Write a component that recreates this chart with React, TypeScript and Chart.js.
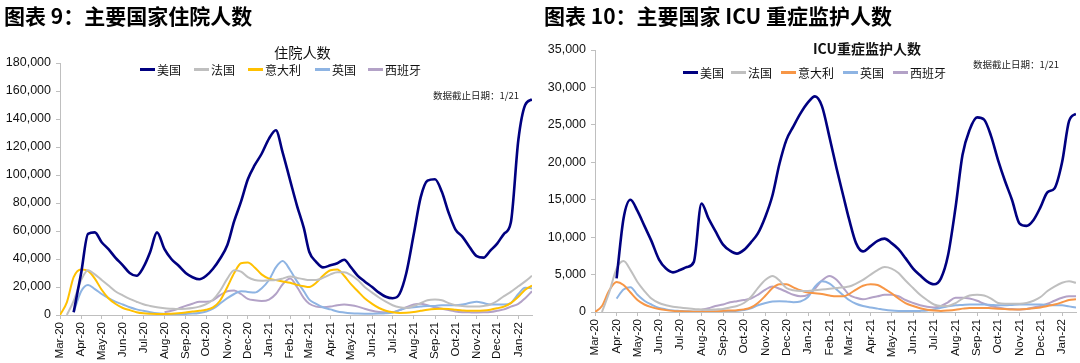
import React, { useEffect, useRef } from "react";
import { Chart, registerables } from "chart.js";

Chart.register(...registerables);

// ---------- categories (sample dates, every ~10 days) ----------
const DATES = [
  "2020-03-01", "2020-03-11", "2020-03-21", "2020-04-01", "2020-04-11", "2020-04-21", "2020-05-01", "2020-05-11", "2020-05-21",
  "2020-06-01", "2020-06-11", "2020-06-21", "2020-07-01", "2020-07-11", "2020-07-21", "2020-08-01", "2020-08-11", "2020-08-21",
  "2020-09-01", "2020-09-11", "2020-09-21", "2020-10-01", "2020-10-11", "2020-10-21", "2020-11-01", "2020-11-11", "2020-11-21",
  "2020-12-01", "2020-12-11", "2020-12-21", "2021-01-01", "2021-01-11", "2021-01-21", "2021-02-01", "2021-02-11", "2021-02-21",
  "2021-03-01", "2021-03-11", "2021-03-21", "2021-04-01", "2021-04-11", "2021-04-21", "2021-05-01", "2021-05-11", "2021-05-21",
  "2021-06-01", "2021-06-11", "2021-06-21", "2021-07-01", "2021-07-11", "2021-07-21", "2021-08-01", "2021-08-11", "2021-08-21",
  "2021-09-01", "2021-09-11", "2021-09-21", "2021-10-01", "2021-10-11", "2021-10-21", "2021-11-01", "2021-11-11", "2021-11-21",
  "2021-12-01", "2021-12-11", "2021-12-21", "2022-01-01", "2022-01-11", "2022-01-21",
];

// ---------- tick labels ----------
const MONTH_TICKS = [
  "2020-03-01", "2020-04-01", "2020-05-01", "2020-06-01", "2020-07-01", "2020-08-01", "2020-09-01", "2020-10-01",
  "2020-11-01", "2020-12-01", "2021-01-01", "2021-02-01", "2021-03-01", "2021-04-01", "2021-05-01", "2021-06-01",
  "2021-07-01", "2021-08-01", "2021-09-01", "2021-10-01", "2021-11-01", "2021-12-01", "2022-01-01",
];
const MONTH_LABELS = [
  "Mar-20", "Apr-20", "May-20", "Jun-20", "Jul-20", "Aug-20", "Sep-20", "Oct-20",
  "Nov-20", "Dec-20", "Jan-21", "Feb-21", "Mar-21", "Apr-21", "May-21", "Jun-21",
  "Jul-21", "Aug-21", "Sep-21", "Oct-21", "Nov-21", "Dec-21", "Jan-22",
];

const SERIES_NAMES = ["美国", "法国", "意大利", "英国", "西班牙"];

// ---------- 住院人数 ----------
const HOSP_US = [
  null, null, 2000, 30000, 58000, 59000, 52000, 47000, 41000,
  35500, 30000, 28000, 34000, 45000, 59000, 47000, 40000, 35500,
  30000, 27000, 25500, 28000, 33000, 40000, 50000, 67000, 81000,
  97000, 107000, 115000, 126000, 132000, 116000, 96000, 78000, 62000,
  45000, 38000, 34000, 35500, 37000, 39500, 34000, 28000, 24000,
  20000, 16000, 13000, 12000, 15000, 30000, 58000, 84000, 96000,
  97000, 88000, 73000, 61000, 56000, 49000, 42000, 41000, 46000,
  51000, 58000, 66000, 125000, 150000, 154000,
];
const HOSP_FR = [
  null, 0, 10000, 25000, 32000, 29000, 25000, 21000, 17000,
  14000, 11500, 9500, 7700, 6500, 5500, 4800, 4500, 4300,
  4500, 5000, 6000, 7700, 11000, 17000, 26000, 32000, 31000,
  27000, 25000, 24500, 24800, 25000, 26000, 27500, 26500, 25500,
  25000, 25000, 26500, 29000, 30500, 30500, 28500, 25000, 20000,
  16000, 12500, 9500, 7000, 5500, 5000, 6500, 8500, 10500,
  11000, 10500, 8500, 7000, 6500, 6000, 6000, 6500, 7500,
  10000, 13500, 16500, 20500, 24000, 28000,
];
const HOSP_IT = [
  0, 9000, 27000, 32500, 31500, 26000, 18000, 12000, 8000,
  5000, 3500, 2000, 1200, 900, 800, 800, 900, 1200,
  1800, 2500, 3000, 3800, 5500, 10000, 20000, 30000, 37000,
  37500, 34000, 29000, 26000, 25000, 24000, 23000, 21500, 20500,
  20000, 23000, 28000, 32000, 32500, 28000, 22000, 17000, 12000,
  8000, 5000, 3000, 2000, 1500, 1600, 2200, 3000, 3800,
  4300, 4500, 4300, 3800, 3300, 3000, 3000, 3200, 3800,
  4800, 6000, 8500, 13000, 18000, 21000,
];
const HOSP_UK = [
  null, null, 2000, 17000, 21500, 18500, 15000, 12000, 9500,
  7500, 5500, 4000, 3000, 2000, 1200, 800, 600, 600,
  800, 1000, 1500, 2500, 4500, 8000, 12000, 15000, 17000,
  16500, 16000, 19000, 25000, 34000, 38500, 32000, 24000, 17000,
  11000, 8000, 5500, 4000, 2500, 1800, 1300, 1000, 900,
  900, 1000, 1200, 1800, 3500, 5000, 5500, 6000, 6500,
  6500, 7000, 7000, 7000, 7500, 8500, 9500, 8500, 7500,
  7500, 7500, 8500, 15000, 19500, 19000,
];
const HOSP_ES = [
  null, null, null, null, null, null, null, null, null,
  null, null, null, null, null, null, 2000, 3000, 4500,
  6500, 8000, 9500, 9500, 10500, 14000, 17000, 17500, 15000,
  11500, 10500, 10000, 11000, 15000, 22000, 26000, 20000, 12000,
  8000, 6000, 5500, 6000, 7000, 7500, 7000, 6000, 4500,
  3000, 2200, 1900, 2000, 3500, 5500, 7500, 8000, 7000,
  5500, 4500, 3500, 2500, 2000, 1900, 1800, 1900, 2200,
  3000, 4000, 6000, 8000, 12000, 17000,
];

// ---------- ICU重症监护人数 ----------
const ICU_US = [
  null, null, null, 4500, 12500, 15000, 13500, 11500, 9500,
  7000, 5800, 5300, 5600, 6000, 6700, 14500, 12500, 10800,
  9000, 8200, 7800, 8300, 9300, 10500, 12800, 15600, 19800,
  23000, 24800, 26500, 28000, 28800, 27500, 23300, 19200, 15400,
  12400, 9200, 8100, 8800, 9500, 9800, 9200, 8400, 7200,
  5800, 4900, 4100, 3700, 4500, 7500, 14000, 21000, 24300,
  26000, 25700, 23500, 20300, 17500, 15000, 11800, 11500, 12300,
  14000, 16000, 16500, 20000, 25500, 26500,
];
const ICU_FR = [
  null, 0, 2500, 5800, 6800, 5600, 4000, 2800, 1800,
  1200, 900, 700, 600, 500, 400, 350, 300, 350,
  400, 600, 800, 1200, 2000, 3200, 4300, 4800, 4200,
  3200, 2900, 2800, 2800, 2900, 3000, 3100, 3200, 3300,
  3400, 3800, 4300, 5000, 5600, 6000, 5800, 5200, 4200,
  3200, 2300, 1600, 1000, 800, 800, 1200, 1800, 2200,
  2300, 2200, 1800, 1200, 1100, 1100, 1100, 1200, 1500,
  2000, 2800, 3400, 3900, 4100, 3900,
];
const ICU_IT = [
  0, 800, 2800, 4000, 3600, 2600, 1600, 1000, 650,
  400, 250, 150, 100, 70, 50, 50, 50, 70,
  150, 200, 250, 350, 600, 1200, 2200, 3200, 3700,
  3700, 3300, 2900, 2600, 2500, 2400, 2200, 2100, 2100,
  2400, 3000, 3500, 3700, 3600, 3100, 2500, 1800, 1200,
  800, 500, 300, 200, 150, 200, 300, 450, 550,
  550, 550, 500, 450, 400, 350, 350, 400, 500,
  600, 800, 1000, 1300, 1600, 1700,
];
const ICU_UK = [
  null, null, null, 1800, 3000, 3300, 2300, 1500, 1000,
  550, 350, 200, 150, 100, 80, 70, 70, 70,
  80, 100, 150, 250, 500, 900, 1200, 1400, 1450,
  1400, 1300, 1400, 2000, 3400, 4100, 3800, 3000, 2200,
  1600, 1100, 800, 600, 450, 300, 200, 150, 130,
  130, 150, 200, 350, 550, 750, 900, 950, 1000,
  1000, 1000, 950, 900, 900, 950, 1000, 1000, 1000,
  1000, 950, 900, 900, 750, 600,
];
const ICU_ES = [
  null, null, null, null, null, null, null, null, null,
  null, null, null, null, null, null, 300, 500, 800,
  1000, 1300, 1450, 1600, 1800, 2300, 3000, 3400, 3100,
  2700, 2300, 2100, 2300, 3100, 4200, 4800, 4300, 3200,
  2300, 1900, 1700, 1900, 2100, 2300, 2300, 2100, 1600,
  1200, 900, 700, 600, 800, 1300, 1900, 1900, 1800,
  1500, 1100, 800, 600, 450, 400, 350, 400, 600,
  800, 1100, 1500, 1900, 2100, 2100,
];

const HOSP_COLORS = ["#000080", "#BFBFBF", "#FFC000", "#8EB4E3", "#B3A2C7"];
const ICU_COLORS = ["#000080", "#BFBFBF", "#F79646", "#8EB4E3", "#B3A2C7"];

const START = Date.UTC(2020, 2, 1);
const toDay = (s: string) => {
  const [y, m, d] = s.split("-").map(Number);
  return (Date.UTC(y, m - 1, d) - START) / 86400000;
};
const fmt = (v: number) => String(v).replace(/\B(?=(\d{3})+(?!\d))/g, ",");

const CJK = "'Noto Sans CJK SC', 'Noto Sans', sans-serif";
const LAT = "'Liberation Sans', Arial, sans-serif";

type Spec = {
  left: number;
  width: number;
  series: (number | null)[][];
  colors: string[];
  yMax: number;
  yStep: number;
  top: number;
  bottom: number;
  axisW: number;
  rightPad: number;
};

function LineChart(p: Spec) {
  const ref = useRef<HTMLCanvasElement>(null);
  useEffect(() => {
    const xs = DATES.map(toDay);
    const tickDays = MONTH_TICKS.map(toDay);
    const chart = new Chart(ref.current as HTMLCanvasElement, {
      type: "line",
      data: {
        datasets: p.series
          .map((vals, k) => ({
            label: SERIES_NAMES[k],
            data: vals.map((v, i) => ({ x: xs[i], y: v })),
            borderColor: p.colors[k],
            backgroundColor: p.colors[k],
            borderWidth: k === 0 ? 2.6 : 2,
            pointRadius: 0,
            fill: false,
            cubicInterpolationMode: "monotone" as const,
            spanGaps: false,
            order: k === 0 ? 0 : 1,
          })),
      },
      options: {
        animation: false,
        responsive: false,
        devicePixelRatio: 1,
        layout: { padding: { top: p.top, right: p.rightPad, left: 0, bottom: 0 } },
        plugins: { legend: { display: false }, title: { display: false }, tooltip: { enabled: false } },
        scales: {
          x: {
            type: "linear",
            min: 0,
            max: xs[xs.length - 1],
            afterBuildTicks: (s: any) => {
              s.ticks = tickDays.map((v) => ({ value: v }));
            },
            afterFit: (s: any) => {
              s.height = 363 - p.bottom;
            },
            ticks: {
              autoSkip: false,
              maxRotation: 90,
              minRotation: 90,
              padding: 3,
              color: "#111",
              font: { family: LAT, size: 11.5 },
              callback: (v: any) => {
                const i = tickDays.indexOf(Number(v));
                return i >= 0 ? MONTH_LABELS[i] : "";
              },
            },
            grid: { display: true, drawOnChartArea: false, drawTicks: true, tickLength: 4, color: "#BFBFBF" },
            border: { display: true, color: "#BFBFBF", width: 1 },
          },
          y: {
            min: 0,
            max: p.yMax,
            afterFit: (s: any) => {
              s.width = p.axisW;
            },
            ticks: {
              stepSize: p.yStep,
              padding: 5,
              color: "#111",
              font: { family: LAT, size: 12.5 },
              callback: (v: any) => fmt(Number(v)),
            },
            grid: { display: true, drawOnChartArea: false, drawTicks: true, tickLength: 4, color: "#BFBFBF" },
            border: { display: true, color: "#BFBFBF", width: 1 },
          },
        },
      },
    });
    return () => chart.destroy();
  }, []);
  return (
    <canvas
      ref={ref}
      width={p.width}
      height={363}
      style={{ position: "absolute", left: p.left, top: 0, width: p.width, height: 363 }}
    />
  );
}

function Text(props: { x: number; y: number; size: number; bold?: boolean; align?: "left" | "center" | "right"; color?: string; children: React.ReactNode }) {
  const { x, y, size, bold, align = "left", color = "#000" } = props;
  const lh = Math.round(size * 1.4);
  const tx = align === "center" ? "translateX(-50%)" : align === "right" ? "translateX(-100%)" : "none";
  return (
    <div
      style={{
        position: "absolute",
        left: x,
        top: y - lh / 2,
        lineHeight: lh + "px",
        fontSize: size,
        fontFamily: CJK,
        fontWeight: bold ? 700 : 400,
        color,
        whiteSpace: "nowrap",
        transform: tx,
      }}
    >
      {props.children}
    </div>
  );
}

function Legend(props: { xs: number[]; y: number; colors: string[] }) {
  return (
    <>
      {SERIES_NAMES.map((n, i) => (
        <React.Fragment key={n}>
          <div
            style={{
              position: "absolute",
              left: props.xs[i] - 17,
              top: props.y - 1.5,
              width: 15,
              height: 3,
              background: props.colors[i],
            }}
          />
          <Text x={props.xs[i]} y={props.y} size={12} color="#111">
            {n}
          </Text>
        </React.Fragment>
      ))}
    </>
  );
}

export default function App() {
  return (
    <div style={{ position: "fixed", left: 0, top: 0, width: 1080, height: 363, background: "#fff", overflow: "hidden" }}>
      <LineChart
        left={0}
        width={540}
        series={[HOSP_US, HOSP_FR, HOSP_IT, HOSP_UK, HOSP_ES]}
        colors={HOSP_COLORS}
        yMax={180000}
        yStep={20000}
        top={63}
        bottom={315}
        axisW={60}
        rightPad={8}
      />
      <LineChart
        left={540}
        width={540}
        series={[ICU_US, ICU_FR, ICU_IT, ICU_UK, ICU_ES]}
        colors={ICU_COLORS}
        yMax={35000}
        yStep={5000}
        top={50}
        bottom={312}
        axisW={55}
        rightPad={4}
      />
      <Text x={4} y={15.5} size={21} bold>
        图表 9：主要国家住院人数
      </Text>
      <Text x={544} y={15.5} size={21} bold>
        图表 10：主要国家 ICU 重症监护人数
      </Text>
      <Text x={274} y={52} size={14.2} color="#111">
        住院人数
      </Text>
      <Text x={813} y={47.5} size={14} bold color="#111">
        ICU重症监护人数
      </Text>
      <Legend xs={[157, 211, 265, 332, 385]} y={69} colors={HOSP_COLORS} />
      <Legend xs={[700, 748, 798, 860, 910]} y={72} colors={ICU_COLORS} />
      <Text x={519} y={95} size={9.5} align="right" color="#222">
        数据截止日期：1/21
      </Text>
      <Text x={1059} y={64} size={9.5} align="right" color="#222">
        数据截止日期：1/21
      </Text>
    </div>
  );
}
